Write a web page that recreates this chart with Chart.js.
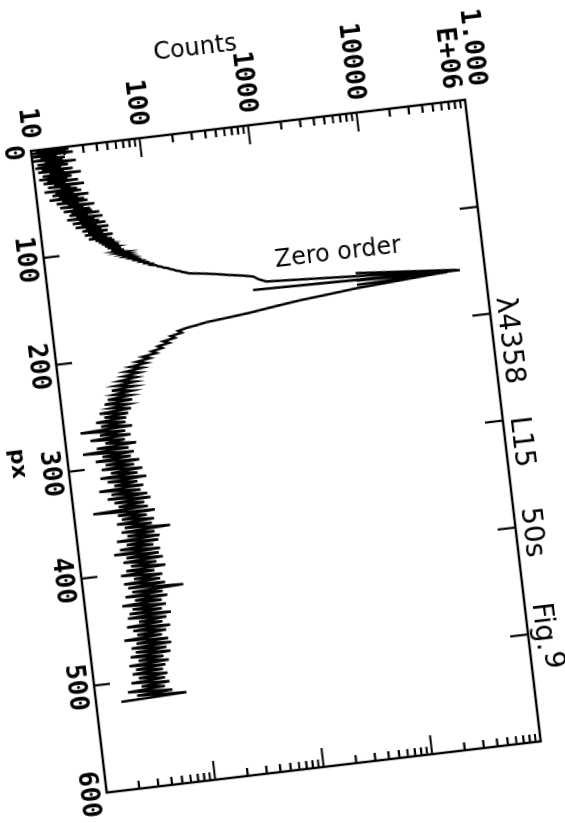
<!DOCTYPE html>
<html>
<head>
<meta charset="utf-8">
<script src="https://cdn.jsdelivr.net/npm/chart.js@4.4.1/dist/chart.umd.min.js"></script>
<style>
html,body{margin:0;padding:0;background:#fff;overflow:hidden;width:565px;height:823px;}
#c{position:absolute;background:#fff;}
</style>
</head>
<body>
<canvas id="c" width="846" height="567"></canvas>
<script>
// ---- data ----
// rising wing (px, counts)
const riseX = [0,1,2,3,4,5,6,7,8,9,10,11,12,13,14,15,16,17,18,19,20,21,22,23,24,25,26,27,28,29,30,31,32,33,34,35,36,37,38,39,40,41,42,43,44,45,46,47,48,49,50,51,52,53,54,55,56,57,58,59,60,61,62,63,64,65,66,67,68,69,70,71,72,73,74,75,76,77,78,79,80,81,82,83,84,85,86,87,88,89,90,91,92,93,94,95,96,97,98,99,100,101,102,103,104,105,106,107,108,109,110,111,112,113,114,115,116,117,118,119,120,121,122,123,124,125,126,127,128,129,130,132,134,136,138,140,143,146];
const riseY = [18,11,22,10,15,24,9.5,17,12,20,
10,19,13,25,11,16,21,10.5,18,12,
23,11,19,14,27,12,17,22,11,20,
13,25,12,19,15,28,13,21,17,24,
12,26,15,22,14,30,16,24,13,27,
17,29,15,24,19,33,16,26,21,30,
17,31,20,36,19,28,22,38,18,32,
23,35,20,40,24,33,21,42,26,36,
24,41,27,37,25,45,29,40,27,44,
31,46,33,42,35,50,37,47,39,52,
42,55,45,58,48,60,52,63,56,68,
62,72,68,79,75,86,83,95,92,104,
106,116,120,132,137,148,154,168,175,190,200,
280,370,470,620,770,850,1000];
// zero order peak (path as traced, including the fan towards the tip)
const peakX = [156.5,152.4,156,148,156.5,155,157,159,157,162,164.5,167,170,173,175,177,179];
const peakY = [59000,740,55000,6600,50000,6600,45000,6600,40000,6560,3600,1930,1100,656,420,260,200];
// falling wing and background
const fallX = [180,182,184,186,188,190,192,194,196,198,200,202,204,206,208,210,212,214,216,218,220,222,224,226,228,230,232,234,236,238,240,242,244,246,248,250,252,254,256,258,260,262,264,266,268,270,272,274,276,278,280,282,284,286,288,290,292,294,296,298,300,302,304,306,308,310,312,314,316,318,320,322,324,326,328,330,332,334,336,338,340,342,344,346,348,350,352,354,356,358,360,362,364,366,368,370,372,374,376,378,380,382,384,386,388,390,392,394,396,398,400,402,404,406,408,410,412,414,416,418,420,422,424,426,428,430,432,434,436,438,440,442,444,446,448,450,452,454,456,458,460,462,464,466,468,470,472,474,476,478,480,482,484,486,488,490,492,494,496,498,500,502,504,506,508,510,512,514,516,518];
const fallY = [170,140,150,118,128,100,112,88,96,76,
84,62,72,54,66,47,60,42,56,40,
52,36,50,33,49,30,46,31,44,27,
45,25,41,28,43,22,40,24,38,20,
37,22,42,14,36,21,40,17,35,23,
44,19,37,14,41,21,38,18,45,22,
40,20,47,24,42,19,50,22,41,25,
46,18,43,23,49,21,52,24,45,26,
48,15,55,25,46,27,53,24,50,28,
73,26,52,29,57,23,55,28,49,24,
56,21,54,27,58,25,50,29,60,26,
47,23,55,30,52,24,57,26,83,28,
53,24,58,29,51,22,55,27,50,25,
60,24,54,30,49,23,57,26,52,28,
47,21,53,27,56,24,50,26,54,23,
46,27,51,22,47,25,44,23,48,26,
45,22,49,27,44,20,51,24,68,17];

// axes
const pxTicks = [0,100,200,300,400,500,600];
const countTicks = [10,100,1000,10000,100000];
const countTickLabels = ["10","100","1000","10000",["1.000","E+06"]];
const titleWords = ["λ4358","L15","50s","Fig.","9"];
const countsTitle = "Counts";
const pxTitle = "px";
const peakNote = "Zero order";

const points = [];
[[riseX,riseY],[peakX,peakY],[fallX,fallY]].forEach(([xs,ys])=>{
  xs.forEach((v,i)=>points.push({x:v,y:ys[i]}));
});

const decor = {
  id:'decor',
  beforeDraw(chart){
    const ctx=chart.ctx;
    ctx.save();ctx.fillStyle='#fff';ctx.fillRect(0,0,chart.width,chart.height);ctx.restore();
  },
  afterDraw(chart){
    const {ctx, chartArea:a, scales:{x,y}} = chart;
    ctx.save();
    ctx.strokeStyle='#000';ctx.fillStyle='#000';
    ctx.lineWidth=2.4;
    ctx.strokeRect(a.left,a.top,a.right-a.left,a.bottom-a.top);
    ctx.lineWidth=2.2;
    ctx.beginPath();
    pxTicks.slice(1,-1).forEach(v=>{
      const X=x.getPixelForValue(v);
      ctx.moveTo(X,a.bottom);ctx.lineTo(X,a.bottom-16);
      ctx.moveTo(X,a.top);ctx.lineTo(X,a.top+18);
    });
    countTicks.slice(0,-1).forEach(d=>{
      for(let m=1;m<=9;m++){
        const v=d*m; if(m===1 && d===10) continue;
        const Y=y.getPixelForValue(v);
        const len = m===1?19:8;
        ctx.moveTo(a.left,Y);ctx.lineTo(a.left+len,Y);
        ctx.moveTo(a.right,Y);ctx.lineTo(a.right-len,Y);
      }
    });
    ctx.stroke();
    // Counts title
    ctx.save();
    ctx.font='24px "DejaVu Sans"';
    ctx.textAlign='center';ctx.textBaseline='alphabetic';
    ctx.translate(a.left-76,y.getPixelForValue(400));
    ctx.rotate(-Math.PI/2);
    ctx.fillText(countsTitle,0,0);
    ctx.restore();
    // px title
    ctx.font='bold 22px "DejaVu Sans"';
    ctx.textAlign='center';ctx.textBaseline='alphabetic';
    ctx.fillText(pxTitle,x.getPixelForValue(287),a.bottom+56);
    // zero order note
    ctx.save();
    ctx.font='24px "DejaVu Sans"';
    ctx.textAlign='center';
    ctx.translate(x.getPixelForValue(134),y.getPixelForValue(4800));
    ctx.rotate(-Math.PI/2);
    ctx.fillText(peakNote,0,0);
    ctx.restore();
    // title words along top
    ctx.font='28px "DejaVu Sans"';
    ctx.textAlign='left';
    const starts=[186,298,383,472];
    titleWords.slice(0,4).forEach((w,i)=>ctx.fillText(w,x.getPixelForValue(starts[i]),a.top-8));
    const fw=ctx.measureText(titleWords[3]).width;
    ctx.fillText(titleWords[4],x.getPixelForValue(472)+fw+1,a.top-14);
    ctx.restore();
  }
};

const chart = new Chart(document.getElementById('c'),{
  type:'scatter',
  data:{datasets:[{data:points,showLine:true,borderColor:'#000',backgroundColor:'#000',borderWidth:2.5,pointRadius:0,tension:0,borderJoinStyle:'miter'}]},
  options:{
    responsive:false,animation:false,devicePixelRatio:1,
    layout:{padding:{left:60,right:40,top:50,bottom:40}},
    plugins:{legend:{display:false},tooltip:{enabled:false}},
    scales:{
      x:{type:'linear',position:'bottom',min:0,max:600,
        afterBuildTicks:s=>{s.ticks=pxTicks.map(v=>({value:v}));},
        afterFit:s=>{s.height=40;},
        grid:{display:false,drawTicks:false},border:{display:false},
        ticks:{autoSkip:false,maxRotation:0,padding:4,color:'#000',font:{family:'"DejaVu Sans Mono"',weight:'bold',size:26},callback:(v,i)=>String(pxTicks[i])}},
      y:{type:'logarithmic',position:'left',min:10,max:100000,
        afterBuildTicks:s=>{s.ticks=countTicks.map(v=>({value:v}));},
        afterFit:s=>{s.width=100;},
        grid:{display:false,drawTicks:false},border:{display:false},
        ticks:{autoSkip:false,padding:12,color:'#000',font:{family:'"DejaVu Sans Mono"',weight:'bold',size:26,lineHeight:1.0},callback:(v,i)=>countTickLabels[i]}}
    }
  },
  plugins:[decor]
});

const a = chart.chartArea;
const cv = document.getElementById('c');
cv.style.left = (31 - a.left) + 'px';
cv.style.top = (151 - a.bottom) + 'px';
cv.style.transformOrigin = a.left + 'px ' + a.bottom + 'px';
cv.style.transform = 'rotate(83.27deg)';
</script>
</body>
</html>
